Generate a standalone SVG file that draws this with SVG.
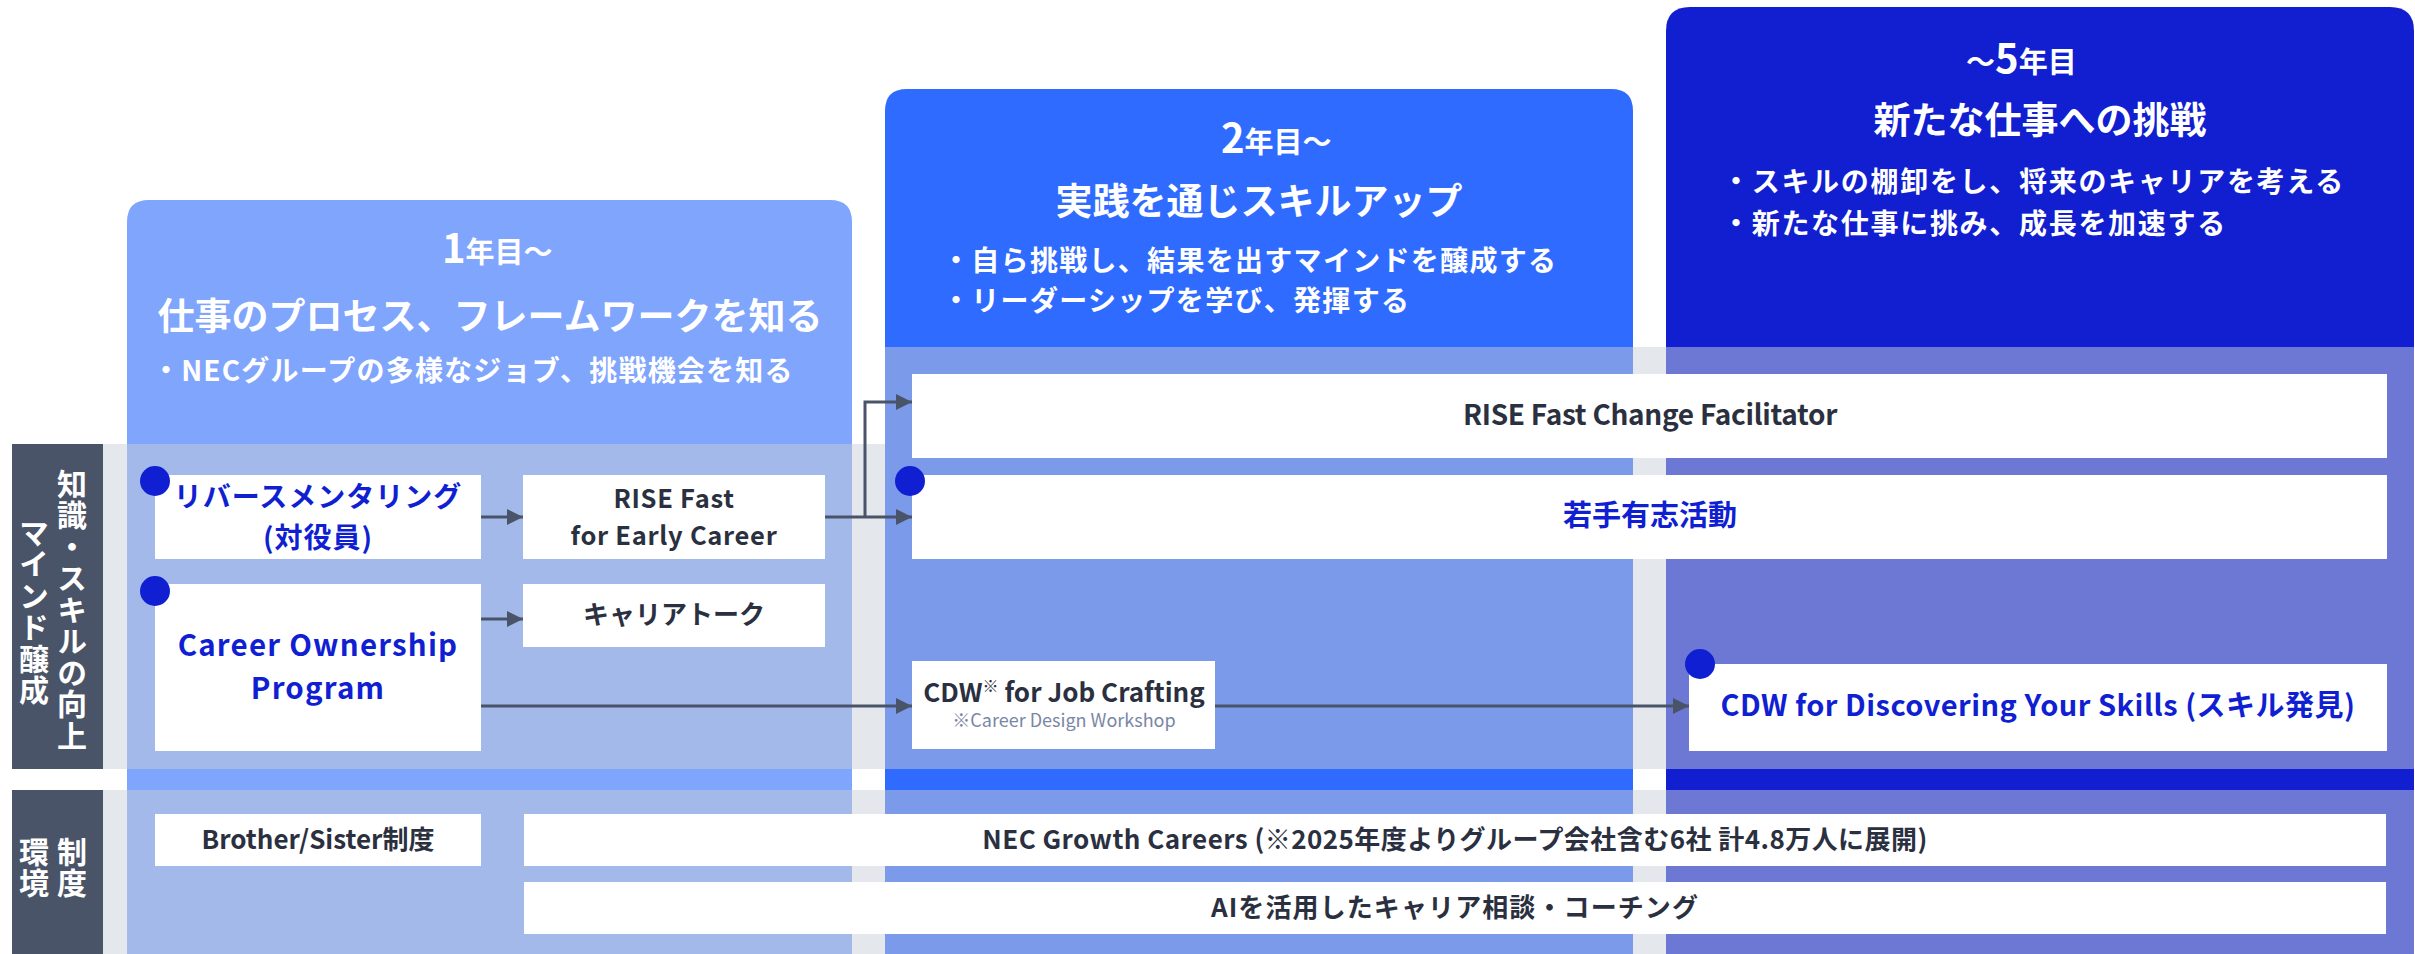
<svg xmlns="http://www.w3.org/2000/svg" width="2415" height="954" viewBox="0 0 2415 954">
<defs>
<style>
text{font-family:"Noto Sans CJK JP","Noto Sans",sans-serif;font-weight:700}
.w{fill:#ffffff}
.box{fill:#ffffff}
.dot{fill:#101fd2}
.blue{fill:#101fd2}
.dark{fill:#2b3040}
.sub{fill:#7a86a6;font-weight:400}
.c{text-anchor:middle}
.conn{fill:none;stroke:#4a5468;stroke-width:3}
.gray{fill:#e4e7ec}
.panel{fill:#4a5468}
.vt{writing-mode:vertical-rl;text-anchor:middle;fill:#ffffff;font-size:30px;letter-spacing:1.5px}
</style>
<marker id="ah" viewBox="0 0 10 10" refX="10" refY="5" markerWidth="16" markerHeight="16" markerUnits="userSpaceOnUse" orient="auto">
<path d="M0,0 L10,5 L0,10 Z" fill="#4a5468"/>
</marker>
</defs>

<g id="background">
<rect class="gray" x="103" y="444" width="24" height="325"/>
<rect class="gray" x="852" y="444" width="33" height="325"/>
<rect class="gray" x="1633" y="347" width="33" height="422"/>
<rect class="gray" x="103" y="790" width="24" height="164"/>
<rect class="gray" x="852" y="790" width="33" height="164"/>
<rect class="gray" x="1633" y="790" width="33" height="164"/>
<path d="M127,954 V222 Q127,200 149,200 H830 Q852,200 852,222 V954 Z" fill="#7fa5fc"/>
<rect x="127" y="444" width="725" height="325" fill="#a3b9ea"/>
<rect x="127" y="790" width="725" height="164" fill="#a3b9ea"/>
<path d="M885,954 V111 Q885,89 907,89 H1611 Q1633,89 1633,111 V954 Z" fill="#2f6bff"/>
<rect x="885" y="347" width="748" height="422" fill="#7b9bea"/>
<rect x="885" y="790" width="748" height="164" fill="#7b9bea"/>
<path d="M1666,954 V31 Q1666,7 1690,7 H2390 Q2414,7 2414,31 V954 Z" fill="#111fd0"/>
<rect x="1666" y="347" width="748" height="422" fill="#6d78d5"/>
<rect x="1666" y="790" width="748" height="164" fill="#6d78d5"/>
</g>

<g id="header-1">
<text class="w" x="442" y="263"><tspan font-size="40">1</tspan><tspan font-size="29">年目～</tspan></text>
<text class="w c" x="490" y="330" font-size="37">仕事のプロセス、フレームワークを知る</text>
<text class="w" x="152" y="381" font-size="28" letter-spacing="1.2">・NECグループの多様なジョブ、挑戦機会を知る</text>
</g>
<g id="header-2">
<text class="w" x="1221" y="153"><tspan font-size="40">2</tspan><tspan font-size="29">年目～</tspan></text>
<text class="w c" x="1259" y="215" font-size="37">実践を通じスキルアップ</text>
<text class="w" x="942" y="271" font-size="28" letter-spacing="1.3">・自ら挑戦し、結果を出すマインドを醸成する</text>
<text class="w" x="942" y="311" font-size="28" letter-spacing="1.3">・リーダーシップを学び、発揮する</text>
</g>
<g id="header-3">
<text class="w" x="1966" y="73"><tspan font-size="29">～</tspan><tspan font-size="40">5</tspan><tspan font-size="29">年目</tspan></text>
<text class="w c" x="2040" y="134" font-size="37">新たな仕事への挑戦</text>
<text class="w" x="1722" y="192" font-size="28" letter-spacing="1.7">・スキルの棚卸をし、将来のキャリアを考える</text>
<text class="w" x="1722" y="234" font-size="28" letter-spacing="1.7">・新たな仕事に挑み、成長を加速する</text>
</g>

<g id="label-knowledge">
<rect class="panel" x="12" y="444" width="91" height="325"/>
<text class="vt" x="72" y="610">知識・スキルの向上</text>
<text class="vt" x="34" y="612">マインド醸成</text>
</g>
<g id="label-system">
<rect class="panel" x="12" y="790" width="91" height="164"/>
<text class="vt" x="72" y="868">制度</text>
<text class="vt" x="34" y="868">環境</text>
</g>

<g id="connectors">
<line class="conn" x1="481" y1="517" x2="523" y2="517" marker-end="url(#ah)"/>
<line class="conn" x1="481" y1="619" x2="523" y2="619" marker-end="url(#ah)"/>
<line class="conn" x1="825" y1="517" x2="912" y2="517" marker-end="url(#ah)"/>
<polyline class="conn" points="865,517 865,402 912,402" marker-end="url(#ah)"/>
<line class="conn" x1="481" y1="706" x2="912" y2="706" marker-end="url(#ah)"/>
<line class="conn" x1="1215" y1="706" x2="1689" y2="706" marker-end="url(#ah)"/>
</g>

<g id="node-reverse-mentoring">
<rect class="box" x="155" y="475" width="326" height="84"/>
<circle class="dot" cx="155" cy="481" r="15"/>
<text class="blue c" font-size="28" letter-spacing="1"><tspan x="318" y="507">リバースメンタリング</tspan><tspan x="318" y="548">(対役員)</tspan></text>
</g>
<g id="node-rise-fast-early">
<rect class="box" x="523" y="475" width="302" height="84"/>
<text class="dark c" font-size="25.5" letter-spacing="0.7"><tspan x="674" y="508">RISE Fast</tspan><tspan x="674" y="545">for Early Career</tspan></text>
</g>
<g id="node-career-ownership">
<rect class="box" x="155" y="584" width="326" height="167"/>
<circle class="dot" cx="155" cy="591" r="15"/>
<text class="blue c" font-size="29.5" letter-spacing="1.2"><tspan x="318" y="656">Career Ownership</tspan><tspan x="318" y="699">Program</tspan></text>
</g>
<g id="node-career-talk">
<rect class="box" x="523" y="584" width="302" height="63"/>
<text class="dark c" x="674" y="624" font-size="26">キャリアトーク</text>
</g>
<g id="node-rise-fcf">
<rect class="box" x="912" y="374" width="1475" height="84"/>
<text class="dark c" x="1650" y="425" font-size="28" letter-spacing="-0.3">RISE Fast Change Facilitator</text>
</g>
<g id="node-wakate">
<rect class="box" x="912" y="475" width="1475" height="84"/>
<circle class="dot" cx="910" cy="481" r="15"/>
<text class="blue c" x="1650" y="526" font-size="29">若手有志活動</text>
</g>
<g id="node-cdw-job">
<rect class="box" x="912" y="661" width="303" height="88"/>
<text class="dark c" x="1064" y="702" font-size="26">CDW<tspan font-size="16" dy="-10">※</tspan><tspan dy="10"> for Job Crafting</tspan></text>
<text class="sub c" x="1064" y="727" font-size="18">※Career Design Workshop</text>
</g>
<g id="node-cdw-discover">
<rect class="box" x="1689" y="664" width="698" height="87"/>
<circle class="dot" cx="1700" cy="664" r="15"/>
<text class="blue c" x="2038" y="716" font-size="29" letter-spacing="0.5">CDW for Discovering Your Skills (スキル発見)</text>
</g>
<g id="node-brother-sister">
<rect class="box" x="155" y="814" width="326" height="52"/>
<text class="dark c" x="318" y="849" font-size="26">Brother/Sister制度</text>
</g>
<g id="node-nec-growth">
<rect class="box" x="524" y="814" width="1862" height="52"/>
<text class="dark c" x="1455" y="849" font-size="26" letter-spacing="0.45">NEC Growth Careers (※2025年度よりグループ会社含む6社 計4.8万人に展開)</text>
</g>
<g id="node-ai">
<rect class="box" x="524" y="882" width="1862" height="52"/>
<text class="dark c" x="1455" y="917" font-size="26" letter-spacing="1.1">AIを活用したキャリア相談・コーチング</text>
</g>
</svg>
